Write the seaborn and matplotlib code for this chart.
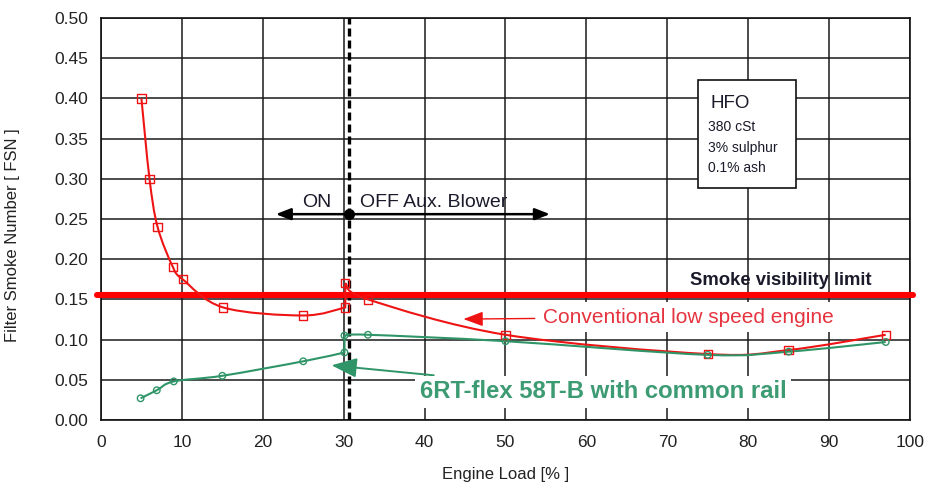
import matplotlib
matplotlib.use("Agg")
import matplotlib.pyplot as plt
from matplotlib.path import Path
from matplotlib.patches import PathPatch, Rectangle
import numpy as np
import pandas as pd
import seaborn as sns

# Conventional low speed engine (red squares)
conv_load = [5.0, 6.0, 7.0, 8.9, 10.1, 15.1, 25.0, 30.2, 30.2, 33.0, 50.0, 75.0, 85.0, 97.0]
conv_fsn = [0.400, 0.300, 0.240, 0.190, 0.175, 0.140, 0.130, 0.140, 0.170, 0.150, 0.106, 0.082, 0.087, 0.106]

# 6RT-flex 58T-B with common rail (green circles)
flex_load = [4.9, 6.9, 9.0, 15.0, 25.0, 30.1, 30.1, 33.0, 50.0, 75.0, 85.0, 97.0]
flex_fsn = [0.027, 0.037, 0.048, 0.055, 0.073, 0.084, 0.105, 0.106, 0.098, 0.081, 0.085, 0.097]

x_ticks = [0, 10, 20, 30, 40, 50, 60, 70, 80, 90, 100]
y_ticks = [0.00, 0.05, 0.10, 0.15, 0.20, 0.25, 0.30, 0.35, 0.40, 0.45, 0.50]

visibility_limit = 0.155
blower_switch_load = 30.7
blower_arrow_fsn = 0.256
blower_arrow_left = 21.6
blower_arrow_right = 55.5

fuel_lines = ["380 cSt", "3% sulphur", "0.1% ash"]

RED = "#ee1414"
RED_TEXT = "#e5343f"
GREEN = "#2f9568"
GREEN_TEXT = "#3d9b73"
INK = "#1a1a2a"

sns.set_style("white")
plt.rcParams["font.family"] = ["Liberation Sans", "DejaVu Sans"]


def smooth_path(xs, ys):
    """Smoothed polyline (Catmull-Rom Bezier), straight where load repeats."""
    p = np.column_stack([xs, ys]).astype(float)
    n = len(p)
    verts = [tuple(p[0])]
    codes = [Path.MOVETO]
    for i in range(n - 1):
        if xs[i + 1] == xs[i]:
            verts.append(tuple(p[i + 1]))
            codes.append(Path.LINETO)
            continue
        prev = i - 1 if i > 0 and xs[i - 1] != xs[i] else i
        nxt = i + 2 if i + 2 < n and xs[i + 2] != xs[i + 1] else i + 1
        c1 = p[i] + (p[i + 1] - p[prev]) / 6.0
        c2 = p[i + 1] - (p[nxt] - p[i]) / 6.0
        verts += [tuple(c1), tuple(c2), tuple(p[i + 1])]
        codes += [Path.CURVE4] * 3
    return Path(verts, codes)


fig = plt.figure(figsize=(9.28, 4.86), dpi=100)
ax = fig.add_axes([0.1088, 0.1358, 0.8718, 0.8272])

# smoothed curves
ax.add_patch(PathPatch(smooth_path(conv_load, conv_fsn), facecolor="none",
                       edgecolor=RED, linewidth=1.5, zorder=4))
ax.add_patch(PathPatch(smooth_path(flex_load, flex_fsn), facecolor="none",
                       edgecolor=GREEN, linewidth=1.5, zorder=4))

conv = pd.DataFrame({"load": conv_load, "fsn": conv_fsn})
flex = pd.DataFrame({"load": flex_load, "fsn": flex_fsn})
sns.scatterplot(data=conv, x="load", y="fsn", marker="s", s=36,
                facecolor="none", edgecolor=RED, linewidth=1.0, ax=ax, zorder=5)
sns.scatterplot(data=flex, x="load", y="fsn", marker="o", s=22,
                facecolor="none", edgecolor=GREEN, linewidth=1.0, ax=ax, zorder=5)

ax.set_xlim(0, 100)
ax.set_ylim(0, 0.5)
ax.set_xticks(x_ticks)
ax.set_yticks(y_ticks)
ax.set_yticklabels([f"{v:.2f}" for v in y_ticks])
ax.grid(True, color="#1a1a1a", linewidth=1.1, zorder=0.5)
ax.set_axisbelow(True)
for s in ax.spines.values():
    s.set_color("#111111")
    s.set_linewidth(1.2)
ax.tick_params(axis="both", direction="inout", length=8, width=1.1,
               color="#111111", labelsize=12.5, labelcolor="#222222")
ax.tick_params(axis="x", pad=7)
ax.tick_params(axis="y", pad=5)

ax.set_xlabel("Engine Load [% ]", fontsize=12, color="#222222", labelpad=12)
ax.set_ylabel("Filter Smoke Number [ FSN ]", fontsize=12, color="#222222")
ax.yaxis.set_label_coords(-0.100, 0.46)

# blower switch-over line
ax.axvline(blower_switch_load, color="black", linewidth=2.4,
           dashes=(2.4, 1.2), zorder=3)

# smoke visibility limit
ax.axhline(visibility_limit, xmin=-0.005, xmax=1.004, color="#ff0000",
           linewidth=4.4, zorder=3.5, clip_on=False)
ax.text(95.2, 0.173, "Smoke visibility limit", fontsize=13.3, fontweight="bold",
        color=INK, ha="right", va="center", zorder=6)

# auxiliary blower ON / OFF arrows
arrow_kw = dict(arrowstyle="-|>,head_length=0.9,head_width=0.35",
                color="black", linewidth=1.8, shrinkA=0, shrinkB=0)
ax.annotate("", xy=(blower_arrow_left, blower_arrow_fsn),
            xytext=(blower_switch_load, blower_arrow_fsn),
            arrowprops=arrow_kw, zorder=6)
ax.annotate("", xy=(blower_arrow_right, blower_arrow_fsn),
            xytext=(blower_switch_load, blower_arrow_fsn),
            arrowprops=arrow_kw, zorder=6)
ax.plot([blower_switch_load], [blower_arrow_fsn], "o", color="black",
        markersize=7, zorder=7)
ax.text(26.7, 0.270, "ON", fontsize=14, color=INK,
        ha="center", va="center", zorder=6)
ax.text(32.0, 0.270, "OFF Aux. Blower", fontsize=14, color=INK,
        ha="left", va="center", zorder=6)

# series labels with pointers
ax.annotate("Conventional low speed engine", xy=(44.8, 0.1255),
            xytext=(54.6, 0.128), fontsize=15, color=RED_TEXT,
            ha="left", va="center", zorder=6,
            bbox=dict(boxstyle="square,pad=0.25", fc="white", ec="none"),
            arrowprops=dict(arrowstyle="-|>,head_length=0.8,head_width=0.3",
                            color=RED, linewidth=1.0, shrinkA=2, shrinkB=0))
ax.annotate("6RT-flex 58T-B with common rail", xy=(28.5, 0.068),
            xytext=(39.4, 0.035), fontsize=17.2, fontweight="bold",
            color=GREEN_TEXT, ha="left", va="center", zorder=6,
            bbox=dict(boxstyle="square,pad=0.2", fc="white", ec="none"),
            arrowprops=dict(arrowstyle="-|>,head_length=0.9,head_width=0.35",
                            color=GREEN, linewidth=1.4, shrinkA=2, shrinkB=0))

# fuel specification box
ax.add_patch(Rectangle((73.8, 0.2886), 12.1, 0.1343, facecolor="white",
                       edgecolor="#111111", linewidth=1.2, zorder=6))
ax.text(75.4, 0.394, "HFO", fontsize=13.5, color=INK,
        ha="left", va="center", zorder=7)
for k, line in enumerate(fuel_lines):
    ax.text(75.0, 0.364 - k * 0.0253, line, fontsize=10, color=INK,
            ha="left", va="center", zorder=7)

fig.savefig("out.png", dpi=100)
